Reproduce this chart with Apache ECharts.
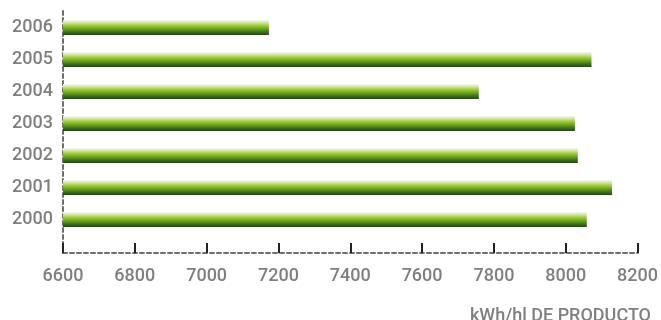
<!DOCTYPE html>
<html>
<head>
<meta charset="utf-8">
<script src="https://cdn.jsdelivr.net/npm/echarts@6/dist/echarts.min.js"></script>
<style>
html,body{margin:0;padding:0;background:#fff;}
#c{width:661px;height:320px;}
</style>
</head>
<body>
<div id="c"></div>
<script>
var years = ['2000','2001','2002','2003','2004','2005','2006'];
var values = [8055, 8125, 8030, 8022, 7755, 8068, 7172];
var xTicks = [6600, 8200, 200];
var unitLabel = 'kWh/hl DE PRODUCTO';

var chart = echarts.init(document.getElementById('c'));
var dash = {color:'#6e6e6e', width:2, type:[4,3]};
var txt = {color:'#7f7f7f', fontFamily:'Roboto', fontSize:18, fontWeight:500};
chart.setOption({
  animation:false,
  title:{text:unitLabel, right:5, top:302, textStyle:{color:'#7f7f7f', fontFamily:'Roboto', fontSize:18, fontWeight:500}},
  grid:[
    {left:63, right:22, top:11.5, bottom:84.5},
    {left:63, right:22, top:8, bottom:67}
  ],
  xAxis:[
    {gridIndex:0, type:'value', min:xTicks[0], max:xTicks[1], interval:xTicks[2], show:false},
    {gridIndex:1, type:'value', min:xTicks[0], max:xTicks[1], interval:xTicks[2],
     axisLine:{show:true, lineStyle:dash},
     axisTick:{show:true, inside:true, length:10, lineStyle:{color:'#222', width:2}},
     axisLabel:Object.assign({margin:14, formatter:function(v){return String(v);}}, txt),
     splitLine:{show:false}}
  ],
  yAxis:[
    {gridIndex:0, type:'category', data:years,
     axisLine:{show:false}, axisTick:{show:false},
     axisLabel:Object.assign({margin:10}, txt)},
    {gridIndex:1, type:'value', min:0, max:1,
     axisLine:{show:true, lineStyle:dash}, axisTick:{show:false},
     axisLabel:{show:false}, splitLine:{show:false}}
  ],
  series:[{
    type:'bar', xAxisIndex:0, yAxisIndex:0, data:values, barWidth:15,
    itemStyle:{color:new echarts.graphic.LinearGradient(0,0,0,1,[
      {offset:0, color:'#f6f9ee'},
      {offset:0.22, color:'#c6e08a'},
      {offset:0.45, color:'#8cbf1f'},
      {offset:0.7, color:'#4f8a1c'},
      {offset:1, color:'#22431a'}
    ])}
  }]
});
</script>
</body>
</html>
